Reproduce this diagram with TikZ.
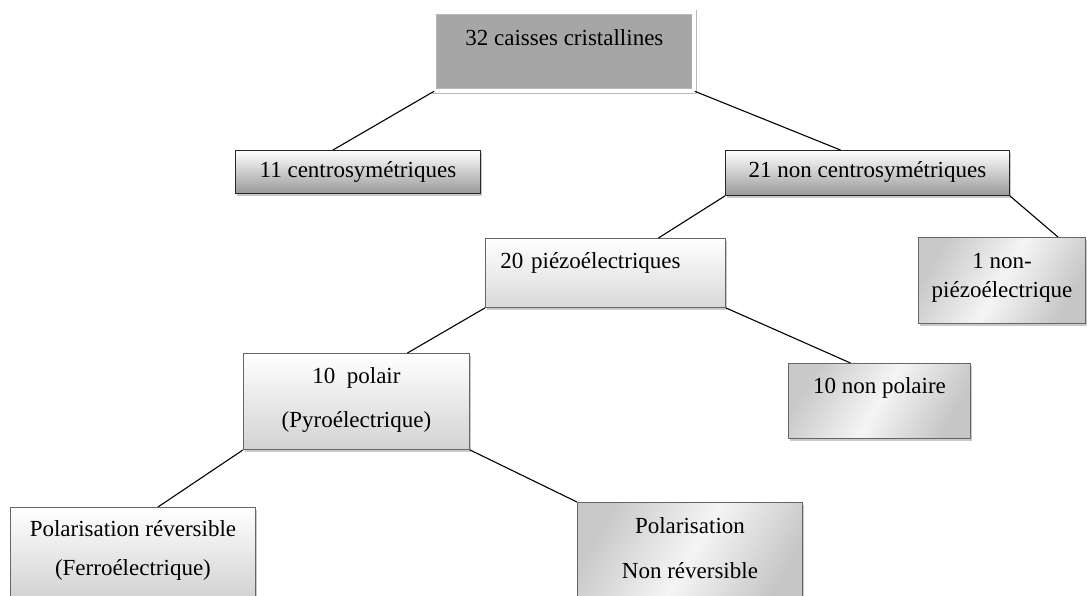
\documentclass[tikz,border=0pt]{standalone}
\usepackage{fontspec}
\setmainfont{Liberation Serif}
\usetikzlibrary{shadows}

\tikzset{
  box/.style={rectangle, draw=black!85, line width=0.9pt, anchor=north west,
    inner ysep=0pt, align=center, font=\fontsize{23}{29}\selectfont,
    drop shadow={shadow xshift=1.5pt, shadow yshift=-3pt, fill=gray!60, opacity=0.7}},
  topbox/.style={box, fill=gray!70, draw=gray!55, double=white,
    double distance=4pt, line width=0.8pt},
  dark/.style={box, top color=white, bottom color=gray!80},
  light/.style={box, draw=gray!80!black, top color=white, bottom color=gray!#1},
  grey/.style={box, draw=gray!80!black, left color=gray!42, right color=gray!45,
    middle color=gray!8, shading angle=60},
  link/.style={line width=1.1pt, black},
}

\begin{document}
\begin{tikzpicture}[x=1pt,y=-1pt]
\useasboundingbox (0,0) rectangle (1087,595);

\node[topbox, minimum width=260pt, text height=33pt, text depth=45.5pt] (cases) at (434,12) {32 caisses cristallines};

\node[dark, minimum width=245pt, text height=27pt, text depth=16pt] (centro) at (235,150) {11 centrosymétriques};
\node[dark, minimum width=284pt, text height=27pt, text depth=18pt] (noncentro) at (725,150) {21 non centrosymétriques};

\node[light=30, text width=210pt, inner xsep=15pt, align=left, text height=30pt, text depth=39pt] (piezo) at (485,238) {20 piézoélectriques};
\node[grey, minimum width=167pt, text height=60pt, text depth=26pt] (nonpiezo) at (918,237) {1 non-\\piézoélectrique};

\node[light=35, minimum width=226pt, text height=74pt, text depth=22pt, font=\fontsize{23}{44}\selectfont] (polair) at (243,353) {10\ \ polair\\(Pyroélectrique)};
\node[grey, minimum width=182pt, text height=30pt, text depth=45pt] (nonpolaire) at (788,363) {10 non polaire};

\node[light=40, minimum width=245pt, text height=68pt, text depth=35pt, font=\fontsize{23}{39}\selectfont] (ferro) at (10,507) {Polarisation réversible\\(Ferroélectrique)};
\node[grey, minimum width=225pt, text height=76pt, text depth=32pt, font=\fontsize{23}{45}\selectfont] (nonrev) at (577,502) {Polarisation\\Non réversible};

\draw[link] (cases.south west) -- ([xshift=-25pt]centro.north);
\draw[link] (cases.south east) -- ([xshift=-27pt]noncentro.north);
\draw[link] (noncentro.south west) -- ([xshift=53pt]piezo.north);
\draw[link] (noncentro.south east) -- ([xshift=56pt]nonpiezo.north);
\draw[link] (piezo.south west) -- ([xshift=51pt]polair.north);
\draw[link] (piezo.south east) -- ([xshift=-29pt]nonpolaire.north);
\draw[link] (polair.south west) -- ([xshift=25pt]ferro.north);
\draw[link] (polair.south east) -- (nonrev.north west);
\end{tikzpicture}
\end{document}
